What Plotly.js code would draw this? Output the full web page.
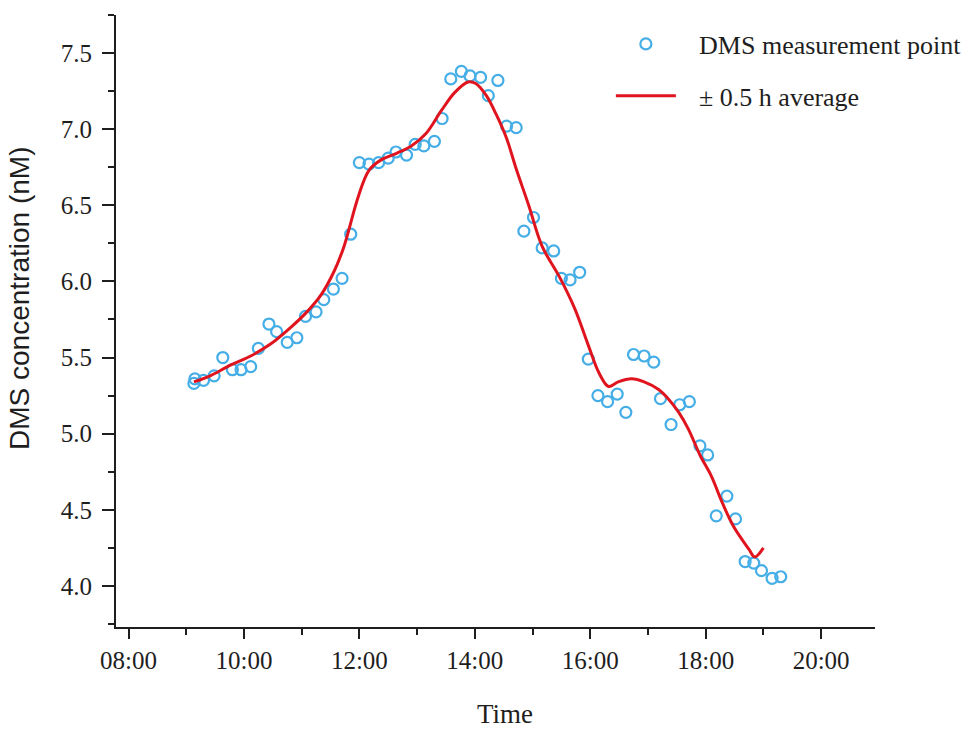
<!DOCTYPE html>
<html>
<head>
<meta charset="utf-8">
<script src="https://cdn.plot.ly/plotly-3.0.1.min.js"></script>
<style>html,body{margin:0;padding:0;background:#fff}#chart{width:977px;height:733px}</style>
</head>
<body>
<div id="chart"></div>
<script>
// Measurement points
var measTimes = ["09:08","09:09","09:18","09:29","09:38","09:48","09:57","10:07","10:15","10:26","10:34","10:45","10:55",
  "11:04","11:15","11:23","11:33","11:42","11:51","12:00","12:10","12:20","12:30","12:38","12:49","12:58",
  "13:07","13:18","13:26","13:35","13:46","13:55","14:06","14:14","14:24","14:33","14:43","14:51",
  "15:01","15:10","15:22","15:30","15:39","15:49","15:58","16:08","16:18","16:28","16:37","16:45","16:56",
  "17:06","17:13","17:24","17:33","17:43","17:54","18:02","18:11","18:22","18:31","18:41","18:50","18:58",
  "19:09","19:18"];
var measValues = [5.33,5.36,5.35,5.38,5.50,5.42,5.42,5.44,5.56,5.72,5.67,5.60,5.63,
  5.77,5.80,5.88,5.95,6.02,6.31,6.78,6.77,6.78,6.81,6.85,6.83,6.90,
  6.89,6.92,7.07,7.33,7.38,7.35,7.34,7.22,7.32,7.02,7.01,6.33,
  6.42,6.22,6.20,6.02,6.01,6.06,5.49,5.25,5.21,5.26,5.14,5.52,5.51,
  5.47,5.23,5.06,5.19,5.21,4.92,4.86,4.46,4.59,4.44,4.16,4.15,4.10,
  4.05,4.06];

// ±0.5 h running average
var avgTimes = ["09:08","09:25","09:46","10:07","10:28","10:49","11:04","11:20","11:34","11:44","11:59","12:10","12:23",
  "12:38","12:54","13:09","13:25","13:39","13:53","14:01","14:12","14:22","14:33","14:43","14:56","15:10",
  "15:28","15:44","15:58","16:09","16:19","16:29","16:43","16:56","17:11","17:21","17:32","17:42","17:54",
  "18:06","18:17","18:29","18:45","18:51","19:00"];
var avgValues = [5.34,5.38,5.45,5.51,5.59,5.70,5.79,5.91,6.07,6.23,6.56,6.73,6.80,
  6.84,6.89,6.97,7.12,7.24,7.31,7.30,7.22,7.10,6.94,6.74,6.50,6.23,
  6.03,5.82,5.58,5.40,5.31,5.34,5.36,5.34,5.29,5.23,5.14,5.03,4.86,
  4.72,4.55,4.39,4.24,4.19,4.25];

var tickTimes = ["08:00","10:00","12:00","14:00","16:00","18:00","20:00"];
var yTicks = [4.0,4.5,5.0,5.5,6.0,6.5,7.0,7.5];

var day = "2000-01-01 ";
function toDate(arr){ return arr.map(function(t){ return day + t; }); }

var serif = "Liberation Serif, Times New Roman, serif";
var ink = "#1e1e1e";

var traces = [
  {
    x: toDate(measTimes), y: measValues, type: "scatter", mode: "markers",
    name: "\u2002\u2009DMS measurement point", legendgroup: "a",
    marker: {symbol: "circle-open", size: 11, color: "#45aee6", line: {width: 2.2, color: "#45aee6"}}
  },
  {
    x: toDate(avgTimes), y: avgValues, type: "scatter", mode: "lines",
    name: "\u2002\u2009\u00b1 0.5 h average", legendgroup: "b",
    line: {color: "#e0141e", width: 3, shape: "spline", smoothing: 1}
  }
];

var layout = {
  width: 977, height: 733,
  margin: {l: 116, r: 102, t: 15, b: 106, autoexpand: false},
  paper_bgcolor: "#fff", plot_bgcolor: "#fff",
  showlegend: true,
  legend: {
    x: 0.652, y: 0.991, xanchor: "left", yanchor: "top",
    font: {family: serif, size: 26, color: ink},
    bgcolor: "rgba(0,0,0,0)", borderwidth: 0,
    tracegroupgap: 15, itemwidth: 60, traceorder: "grouped"
  },
  xaxis: {
    type: "date",
    range: [day + "07:47", day + "20:56"],
    tickvals: toDate(tickTimes), ticktext: tickTimes,
    showgrid: false, zeroline: false,
    showline: true, linecolor: ink, linewidth: 2,
    ticks: "outside", ticklen: 10, tickwidth: 2, tickcolor: ink,
    minor: {dtick: 7200000, tick0: day + "09:00", ticks: "outside", ticklen: 6, tickwidth: 2, tickcolor: ink, showgrid: false},
    tickfont: {family: serif, size: 25, color: ink},
    automargin: false
  },
  yaxis: {
    range: [3.73, 7.75],
    tickvals: yTicks, ticktext: yTicks.map(function(v){ return v.toFixed(1); }),
    showgrid: false, zeroline: false,
    showline: true, linecolor: ink, linewidth: 2,
    ticks: "outside", ticklen: 12, tickwidth: 2, tickcolor: ink,
    ticklabelstandoff: 5,
    minor: {dtick: 0.5, tick0: 3.75, ticks: "outside", ticklen: 6, tickwidth: 2, tickcolor: ink, showgrid: false},
    tickfont: {family: serif, size: 25, color: ink},
    automargin: false
  },
  annotations: [
    {text: "Time", xref: "paper", yref: "paper", x: 0.513, y: -0.142,
     xanchor: "center", yanchor: "middle", showarrow: false,
     font: {family: serif, size: 27, color: ink}},
    {text: "DMS concentration (nM)", xref: "paper", yref: "paper", x: -0.127, y: 0.537,
     xanchor: "center", yanchor: "middle", textangle: -90, showarrow: false,
     font: {family: "Liberation Sans, Arial, sans-serif", size: 28, color: ink}}
  ]
};

Plotly.newPlot("chart", traces, layout, {displayModeBar: false, staticPlot: true});
</script>
</body>
</html>
